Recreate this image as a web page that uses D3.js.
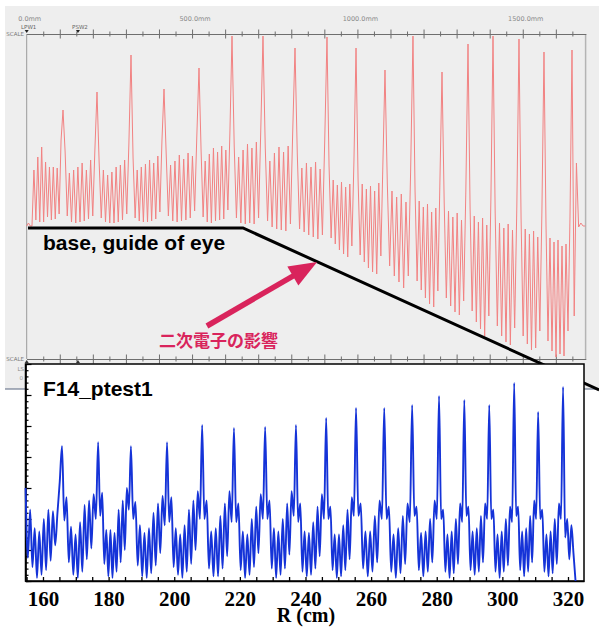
<!DOCTYPE html>
<html>
<head>
<meta charset="utf-8">
<script src="https://cdn.jsdelivr.net/npm/d3@7"></script>
<style>
  body { margin: 0; background: #fff; }
  svg { display: block; }
</style>
</head>
<body>
<script>
// ---- data ----
// red trace (measured, top screenshot): knots = start, flat end of start, 18 peaks, end
var redKnotMm = [0, 16, 109.8, 212.6, 315.4, 415.2, 521.0, 620.8, 714.5, 811.3, 908.0, 995.8, 1083.4, 1168.0, 1255.8, 1334.4, 1410.0, 1488.6, 1564.2, 1648.9, 1689];
var redKnotV = [0, 0, 11.6, 13.4, 17.1, 13.7, 15.8, 19.0, 19.0, 17.8, 18.9, 17.8, 15.6, 19.0, 15.4, 18.2, 19.0, 18.7, 17.4, 17.6, 0];
// extremes read between two knots (spread evenly between them)
var redFill = [
  [0.3, 0],
  [5.6, 0.6, 6.9, 0.4, 7.9, 0.4, 6.4, 0.9, 5.9, 0.6, 5.9, 0.7, 5.8, 1.2, 8.6],
  [7.4, 1.0, 5.3, 0.4, 5.6, 0.3, 5.9, 0.4, 6.3, 0.5, 5.6, 0.7, 6.6, 1.0, 7.6],
  [6.4, 0.8, 5.6, 0.4, 5.1, 0.3, 5.4, 0.3, 5.9, 0.4, 6.1, 0.6, 6.6, 1.2, 8.2],
  [6.8, 0.8, 5.6, 0.5, 5.9, 0.4, 6.2, 0.4, 6.6, 0.5, 6.3, 0.7, 7.0, 1.4, 8.5],
  [7.2, 1.0, 6.1, 0.5, 6.5, 0.4, 7.1, 0.5, 6.7, 0.6, 7.3, 0.8, 7.0, 1.5, 9.0],
  [7.6, 0.9, 6.5, 0.4, 7.2, 0.3, 7.8, 0.5, 7.4, 0.6, 8.0, 0.7, 7.6, 1.6, 9.5],
  [8.0, 0.8, 6.9, 0.3, 7.6, 0.2, 8.2, 0.3, 7.8, 0.2, 8.4, 0.8, 9.6],
  [7.8, 0.5, 6.5, -0.1, 7.3, -0.3, 7.9, -0.4, 7.4, -0.5, 8.0, 0.2, 9.4],
  [7.2, -0.3, 5.8, -0.6, 6.3, -0.9, 5.9, -1.1, 6.4, -1.3, 5.7, -0.9, 8.4],
  [6.0, -1.2, 4.6, -1.8, 4.1, -2.4, 4.4, -2.8, 3.9, -3.1, 4.2, -2.0, 6.5],
  [4.6, -2.9, 4.2, -3.6, 3.7, -4.2, 4.0, -4.6, 3.5, -4.8, 4.3, -3.0, 6.4],
  [4.2, -4.0, 3.5, -5.0, 2.9, -5.6, 3.2, -6.2, 2.4, -5.0, 5.5],
  [3.6, -5.5, 2.5, -6.4, 1.9, -7.2, 2.2, -7.8, 1.4, -8.1, 1.8, -6.5, 4.5],
  [2.4, -7.2, 1.5, -8.0, 0.9, -8.6, 1.3, -8.9, 0.6, -7.5, 3.5],
  [1.8, -8.5, 1.0, -9.6, 0.4, -10.3, 0.8, -11.0, 0.1, -9.0, 2.8],
  [1.4, -10.0, 0.3, -11.0, -0.2, -11.6, 0.2, -11.9, -0.4, -10.2, 2.0],
  [0.8, -11.0, -0.3, -11.8, -0.8, -12.4, -0.5, -12.2, -1.1, -10.5, 1.5],
  [0.2, -11.5, -1.2, -12.5, -1.6, -13.1, -1.4, -12.8, -2.0, -13.0, -1.8, -10.5, 1.0],
  [-9.0, 6.3, -0.1, 0.3, 0]
];
var scaleLabelsMm = [0, 500, 1000, 1500];
var markers = [{ name: 'LPW1', mm: 0 }, { name: 'PSW2', mm: 155 }];

// guide of eye and arrow, in the red trace's units
var guideMm = [4, 654, 1731];
var guideV = [-0.2, -0.2, -16.4];
var arrowMm = [545, 878];
var arrowV = [-10.0, -3.6];

// blue trace (calculation, F14_ptest1): knots = start, 18 peaks, end
var blueKnotR = [154.7, 165.8, 176.8, 186.8, 197.8, 208.5, 218.2, 227.7, 237.1, 246.3, 255.4, 264.0, 272.5, 280.7, 288.4, 296.0, 303.6, 310.9, 318.5, 322.3];
var blueKnotV = [3.0, 4.35, 4.48, 4.35, 4.48, 5.03, 4.94, 4.97, 5.03, 5.26, 5.58, 5.58, 5.68, 5.97, 5.84, 5.68, 6.39, 5.45, 6.26, 0];
var blueFill = [
  [0.75, 2.3, 0.45, 1.7, 0.1, 1.6, 0.2, 2.0, 0.35, 2.3, 0.65, 2.25, 1.15, 2.2, 3.2],
  [1.95, 2.7, 0.6, 1.75, 0.2, 1.5, 0.1, 1.9, 0.3, 2.45, 0.7, 2.6, 1.05, 2.8, 2.0],
  [2.1, 2.85, 0.55, 1.65, 0.15, 1.65, 0.1, 1.55, 0.3, 2.3, 0.6, 2.6, 1.0, 3.0, 2.3],
  [2.0, 2.55, 0.5, 1.8, 0.15, 1.55, 0.1, 1.7, 0.25, 2.2, 0.5, 2.5, 0.9, 2.75, 1.8],
  [1.9, 2.7, 0.45, 1.7, 0.2, 1.5, 0.1, 1.8, 0.3, 2.3, 0.55, 2.6, 1.0, 2.9, 2.0],
  [2.0, 2.6, 0.4, 1.6, 0.15, 1.7, 0.15, 2.1, 0.4, 2.5, 0.8, 2.9, 1.9],
  [1.9, 2.5, 0.35, 1.6, 0.1, 1.5, 0.2, 2.0, 0.45, 2.4, 0.9, 2.8, 2.0],
  [2.0, 2.6, 0.4, 1.7, 0.1, 1.6, 0.2, 2.0, 0.4, 2.5, 0.85, 2.9, 2.1],
  [1.9, 2.5, 0.3, 1.6, 0.15, 1.55, 0.2, 1.9, 0.4, 2.4, 0.8, 2.8, 2.0],
  [2.0, 2.4, 0.35, 1.5, 0.1, 1.5, 0.15, 1.8, 0.35, 2.3, 0.7, 2.7, 2.1],
  [2.1, 2.5, 0.4, 1.6, 0.15, 1.6, 0.3, 2.1, 0.6, 2.6, 2.0],
  [2.0, 2.4, 0.3, 1.5, 0.1, 1.7, 0.25, 2.1, 0.55, 2.5, 1.9],
  [2.1, 2.4, 0.35, 1.55, 0.15, 1.6, 0.3, 2.0, 0.6, 2.6, 2.0],
  [2.0, 2.3, 0.3, 1.5, 0.1, 1.6, 0.25, 2.0, 0.55, 2.5, 1.9],
  [2.1, 2.4, 0.35, 1.6, 0.2, 1.7, 0.3, 2.1, 0.6, 2.5, 2.0],
  [2.0, 2.3, 0.3, 1.5, 0.1, 1.6, 0.3, 2.0, 0.5, 2.4, 1.9],
  [2.1, 2.4, 0.35, 1.6, 0.15, 1.7, 0.3, 2.1, 0.6, 2.6, 2.0],
  [2.0, 2.3, 0.3, 1.5, 0.15, 1.6, 0.25, 2.0, 0.55, 2.5, 2.0],
  [1.4, 2.0, 0.7, 1.8, 0.9]
];
var rTicks = [160, 180, 200, 220, 240, 260, 280, 300, 320];

// knots + the extremes between them -> [x, v] points
function buildTrace(knotX, knotV, fill) {
  var pts = [];
  knotX.forEach(function(x, i) {
    pts.push([x, knotV[i]]);
    if (i < fill.length) {
      var seg = fill[i];
      var dx = (knotX[i + 1] - x) / (seg.length + 1);
      seg.forEach(function(v, j) { pts.push([x + dx * (j + 1), v]); });
    }
  });
  return pts;
}

var svg = d3.select('body').append('svg')
  .attr('width', 599)
  .attr('height', 627);

// ---- top: screenshot of the scope trace ----
svg.append('rect')
  .attr('x', 5).attr('y', 6).attr('width', 594).attr('height', 383)
  .attr('fill', '#eeeeee');
svg.append('line')
  .attr('x1', 5).attr('x2', 599).attr('y1', 389).attr('y2', 389)
  .attr('stroke', '#56647e').attr('stroke-width', 1);

var redX = d3.scaleLinear().domain([0, 1690]).range([26.7, 585.6]);
var redY = d3.scaleLinear().domain([-13.2, 19.2]).range([358, 34]);

// frame sides
svg.append('line')
  .attr('x1', redX(0)).attr('x2', redX(0)).attr('y1', 34).attr('y2', 359)
  .attr('stroke', '#9a9a9a');
svg.append('line')
  .attr('x1', redX(1690)).attr('x2', redX(1690)).attr('y1', 34).attr('y2', 359)
  .attr('stroke', '#b4b4b4').attr('stroke-width', 1.5);

// scale bars (top and bottom), ticks on both sides of the line
function scaleBar(y) {
  var g = svg.append('g').attr('transform', `translate(0, ${y})`);
  var major = d3.range(100, 1700, 100);
  var minor = d3.range(50, 1700, 100);
  [[d3.axisTop, major, 4.5], [d3.axisBottom, major, 4.5],
   [d3.axisTop, minor, 2.5], [d3.axisBottom, minor, 2.5]].forEach(function(a) {
    g.append('g')
      .call(a[0](redX).tickValues(a[1]).tickSize(a[2]).tickSizeOuter(0).tickFormat(''));
  });
  g.selectAll('text').remove();
  g.selectAll('path, line').attr('stroke', '#6e6e6e');
  svg.append('text')
    .attr('x', 24).attr('y', y + 2)
    .attr('text-anchor', 'end')
    .attr('font-family', 'DejaVu Sans').attr('font-size', 5.5)
    .attr('fill', '#777')
    .text('SCALE');
}
scaleBar(34);
scaleBar(359);

svg.selectAll('text.mm')
  .data(scaleLabelsMm)
  .enter().append('text')
  .attr('class', 'mm')
  .attr('x', function(d) { return redX(d) + 3; })
  .attr('y', 21)
  .attr('text-anchor', 'middle')
  .attr('font-family', 'DejaVu Sans').attr('font-size', 6.5)
  .attr('fill', '#8a8a8a')
  .text(function(d) { return d.toFixed(1) + 'mm'; });

// position markers
markers.forEach(function(m) {
  var x = redX(m.mm);
  svg.append('text')
    .attr('x', x + 2).attr('y', 28.5)
    .attr('text-anchor', 'middle')
    .attr('font-family', 'DejaVu Sans').attr('font-size', 5.5)
    .attr('fill', '#666')
    .text(m.name);
  svg.append('path')
    .attr('d', `M${x - 2},30 L${x + 2},30 L${x},33 Z`)
    .attr('fill', '#222');
  svg.append('path')
    .attr('d', `M${x - 2},363 L${x + 2},363 L${x},360 Z`)
    .attr('fill', '#333');
});

// red trace
var redLine = d3.line()
  .x(function(d) { return redX(d[0]); })
  .y(function(d) { return redY(d[1]); });

svg.append('path')
  .datum(buildTrace(redKnotMm, redKnotV, redFill))
  .attr('fill', 'none')
  .attr('stroke', '#f28282')
  .attr('stroke-width', 1)
  .attr('stroke-linejoin', 'round')
  .attr('d', redLine);

// guide of eye
svg.append('path')
  .datum(guideMm.map(function(d, i) { return [d, guideV[i]]; }))
  .attr('fill', 'none')
  .attr('stroke', '#000')
  .attr('stroke-width', 3)
  .attr('d', redLine);

svg.append('text')
  .attr('x', 43).attr('y', 250)
  .attr('font-family', 'Liberation Sans, Arial, sans-serif')
  .attr('font-weight', 'bold')
  .attr('font-size', 21)
  .attr('fill', '#000')
  .text('base, guide of eye');

// arrow
var ax0 = redX(arrowMm[0]), ay0 = redY(arrowV[0]);
var ax1 = redX(arrowMm[1]), ay1 = redY(arrowV[1]);
var len = Math.hypot(ax1 - ax0, ay1 - ay0);
var ux = (ax1 - ax0) / len, uy = (ay1 - ay0) / len;
var headLen = 28, headW = 11;
var bx = ax1 - ux * headLen, by = ay1 - uy * headLen;
var pink = '#d9245c';
svg.append('line')
  .attr('x1', ax0).attr('y1', ay0).attr('x2', bx + ux * 2).attr('y2', by + uy * 2)
  .attr('stroke', pink).attr('stroke-width', 5.5);
svg.append('path')
  .attr('d', `M${ax1},${ay1} L${bx - uy * headW},${by + ux * headW} L${bx + uy * headW},${by - ux * headW} Z`)
  .attr('fill', pink);

svg.append('text')
  .attr('x', 159).attr('y', 347)
  .attr('font-family', 'Noto Sans CJK JP')
  .attr('font-weight', 'bold')
  .attr('font-size', 17)
  .attr('fill', pink)
  .text('二次電子の影響');

// bits of the screenshot peeking out on the left of the plot
svg.append('text')
  .attr('x', 24).attr('y', 371).attr('text-anchor', 'end')
  .attr('font-family', 'DejaVu Sans').attr('font-size', 5.5).attr('fill', '#888')
  .text('LS');
svg.append('text')
  .attr('x', 23).attr('y', 380).attr('text-anchor', 'end')
  .attr('font-family', 'DejaVu Sans').attr('font-size', 5.5).attr('fill', '#999')
  .text('0');

// ---- bottom: calculated profile ----
var blueX = d3.scaleLinear().domain([154.67, 324.88]).range([25.5, 584]);
var blueY = d3.scaleLinear().domain([0, 7]).range([581, 364]);

svg.append('rect')
  .attr('x', 25.5).attr('y', 364)
  .attr('width', 584 - 25.5).attr('height', 581 - 364)
  .attr('fill', '#fff')
  .attr('stroke', '#000').attr('stroke-width', 1.5);

// x axis: ticks every 5 cm pointing in, labels every 20
var xAxisG = svg.append('g')
  .attr('class', 'xaxis')
  .attr('transform', 'translate(0, 581)')
  .call(d3.axisBottom(blueX)
    .tickValues(d3.range(155, 325, 5))
    .tickSize(-4)
    .tickSizeOuter(0)
    .tickPadding(10)
    .tickFormat(function(d) { return rTicks.indexOf(d) >= 0 ? d : ''; }));

xAxisG.selectAll('text')
  .filter(function(d) { return rTicks.indexOf(d) < 0; })
  .remove();
xAxisG.selectAll('text')
  .attr('font-family', 'Liberation Serif, Times New Roman, serif')
  .attr('font-weight', 'bold')
  .attr('font-size', 21)
  .attr('fill', '#000');
xAxisG.selectAll('path, line').attr('stroke', '#000').attr('stroke-width', 1.3);

// y axis: unlabeled, minor and major ticks pointing in
svg.append('g')
  .attr('class', 'yaxis')
  .attr('transform', 'translate(25.5, 0)')
  .call(d3.axisLeft(blueY).tickValues(d3.range(0, 7.01, 0.2)).tickSize(-3).tickSizeOuter(0).tickFormat(''));
svg.append('g')
  .attr('class', 'yaxis')
  .attr('transform', 'translate(25.5, 0)')
  .call(d3.axisLeft(blueY).tickValues(d3.range(0, 8, 1)).tickSize(-6).tickSizeOuter(0).tickFormat(''));
svg.selectAll('.yaxis text').remove();
svg.selectAll('.yaxis path, .yaxis line').attr('stroke', '#000').attr('stroke-width', 1.2);

var blueLine = d3.line()
  .x(function(d) { return blueX(d[0]); })
  .y(function(d) { return blueY(d[1]); })
  .curve(d3.curveMonotoneX);

svg.append('path')
  .datum(buildTrace(blueKnotR, blueKnotV, blueFill))
  .attr('fill', 'none')
  .attr('stroke', '#1533d8')
  .attr('stroke-width', 1.9)
  .attr('stroke-linejoin', 'round')
  .attr('d', blueLine);

svg.append('text')
  .attr('x', 43).attr('y', 396)
  .attr('font-family', 'Liberation Sans, Arial, sans-serif')
  .attr('font-weight', 'bold')
  .attr('font-size', 21)
  .attr('fill', '#000')
  .text('F14_ptest1');

svg.append('text')
  .attr('x', 306).attr('y', 622)
  .attr('text-anchor', 'middle')
  .attr('font-family', 'Liberation Serif, Times New Roman, serif')
  .attr('font-weight', 'bold')
  .attr('font-size', 20)
  .attr('fill', '#000')
  .text('R (cm)');
</script>
</body>
</html>
